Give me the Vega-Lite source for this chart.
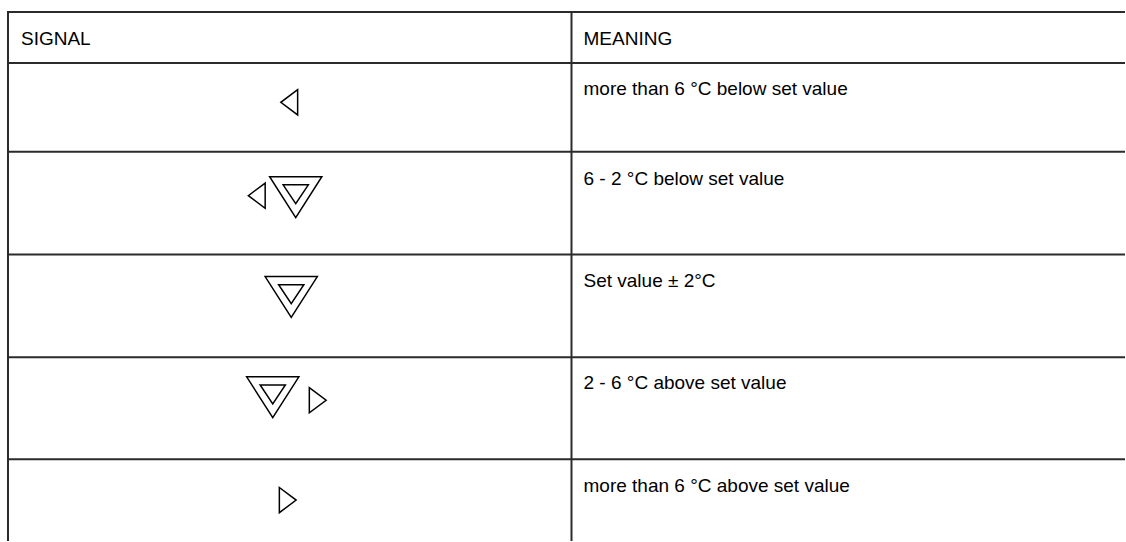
{
  "$schema": "https://vega.github.io/schema/vega-lite/v6.json",
  "width": 1126,
  "height": 542,
  "padding": 0,
  "autosize": {"type": "fit", "contains": "padding"},
  "background": "white",
  "config": {"view": {"stroke": null}},
  "datasets": {
    "lines": [
      {"x": 8, "x2": 1126, "y": 12, "y2": 12},
      {"x": 8, "x2": 1126, "y": 63, "y2": 63},
      {"x": 8, "x2": 1126, "y": 152, "y2": 152},
      {"x": 8, "x2": 1126, "y": 255, "y2": 255},
      {"x": 8, "x2": 1126, "y": 358, "y2": 358},
      {"x": 8, "x2": 1126, "y": 460, "y2": 460},
      {"x": 8, "x2": 8, "y": 11, "y2": 542},
      {"x": 572, "x2": 572, "y": 11, "y2": 542}
    ],
    "cells": [
      {"label": "SIGNAL", "x": 21, "y": 45},
      {"label": "MEANING", "x": 584, "y": 45},
      {"label": "more than 6 °C below set value", "x": 584, "y": 95},
      {"label": "6 - 2 °C below set value", "x": 584, "y": 185},
      {"label": "Set value ± 2°C", "x": 584, "y": 288},
      {"label": "2 - 6 °C above set value", "x": 584, "y": 390},
      {"label": "more than 6 °C above set value", "x": 584, "y": 493}
    ],
    "symbols": [
      {"sym": "left", "x": 289.5, "y": 102.5},
      {"sym": "left", "x": 257, "y": 196},
      {"sym": "nabla", "x": 296, "y": 197.5},
      {"sym": "nabla", "x": 291.5, "y": 297.5},
      {"sym": "nabla", "x": 273, "y": 398},
      {"sym": "right", "x": 318, "y": 401},
      {"sym": "right", "x": 288, "y": 501}
    ]
  },
  "layer": [
    {
      "data": {"name": "lines"},
      "mark": {"type": "rule", "stroke": "#2b2b2b", "strokeWidth": 2},
      "encoding": {
        "x": {"field": "x", "type": "quantitative", "scale": {"domain": [0, 1126], "nice": false, "zero": false}, "axis": null},
        "x2": {"field": "x2"},
        "y": {"field": "y", "type": "quantitative", "scale": {"domain": [0, 542], "nice": false, "zero": false, "reverse": true}, "axis": null},
        "y2": {"field": "y2"}
      }
    },
    {
      "data": {"name": "cells"},
      "mark": {"type": "text", "align": "left", "baseline": "alphabetic", "font": "Liberation Sans", "fontSize": 19, "color": "black"},
      "encoding": {
        "x": {"field": "x", "type": "quantitative"},
        "y": {"field": "y", "type": "quantitative"},
        "text": {"field": "label"}
      }
    },
    {
      "data": {"name": "symbols"},
      "mark": {"type": "point", "filled": false, "stroke": "black", "strokeWidth": 1.5, "size": 3600, "opacity": 1},
      "encoding": {
        "x": {"field": "x", "type": "quantitative"},
        "y": {"field": "y", "type": "quantitative"},
        "shape": {
          "field": "sym",
          "type": "nominal",
          "scale": {
            "domain": ["left", "nabla", "right"],
            "range": [
              "M0.28,-0.42 L-0.28,0 L0.28,0.42 Z",
              "M-0.87,-0.68 L0.87,-0.68 L0,0.68 Z M-0.42,-0.41 L0.42,-0.41 L0,0.22 Z",
              "M-0.28,-0.42 L0.28,0 L-0.28,0.42 Z"
            ]
          },
          "legend": null
        }
      }
    }
  ]
}
